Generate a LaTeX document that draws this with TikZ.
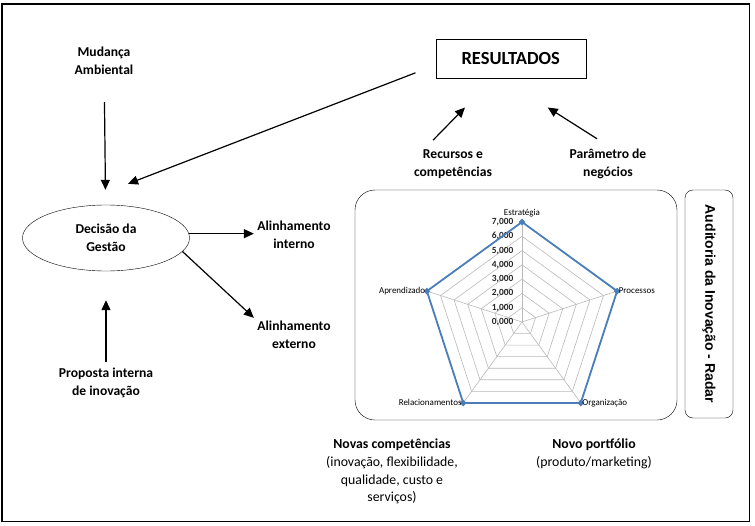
\documentclass[tikz,border=0pt]{standalone}
\usepackage{fontspec}
\setmainfont{Carlito}
\newfontfamily\arialfont{Liberation Sans}
\usetikzlibrary{arrows.meta, shapes.geometric}
\definecolor{radarblue}{RGB}{74,126,187}
\definecolor{gridgray}{RGB}{185,185,185}

\begin{document}
\begin{tikzpicture}[x=1pt, y=-1pt,
    lbl/.style={align=center, font=\fontsize{13.6}{17.6}\selectfont\bfseries},
    txt/.style={align=center, font=\fontsize{13.8}{17.6}\selectfont},
    arr/.style={-{Triangle[length=10pt, width=9pt]}, line width=1.2pt},
    radargrid/.style={draw=gridgray, line width=0.6pt},
    ticklbl/.style={font=\fontsize{9.4}{10}\selectfont\bfseries, anchor=east, inner sep=0pt, text=black!85},
    catlbl/.style={font=\fontsize{9}{10}\selectfont, inner sep=1.5pt}]
    \useasboundingbox (0,0) rectangle (755,525);
    \draw[line width=1.4pt] (2,4) rectangle (749.5,521.5);

    %Nodes
    \node[lbl] at (104, 61) (mud) {Mudança\\Ambiental};
    \node[lbl, draw, ellipse, thin, minimum width=167, minimum height=66] at (106, 238) (dec) {Decisão da\\Gestão};
    \node[lbl] at (106, 383) (prop) {Proposta interna\\de inovação};
    \node[lbl] at (294, 235) (aint) {Alinhamento\\interno};
    \node[lbl] at (294, 335) (aext) {Alinhamento\\externo};
    \node[draw, thin, minimum width=150, minimum height=39, font=\fontsize{18.5}{20}\selectfont\bfseries] at (510.7, 58.8) (res) {RESULTADOS};
    \node[lbl] at (453, 164) (rec) {Recursos e\\competências};
    \node[lbl] at (608, 164) (par) {Parâmetro de\\negócios};
    \node[txt] at (392, 471.7) (novc) {\textbf{Novas competências}\\(inovação, flexibilidade,\\qualidade, custo e\\serviços)};
    \node[txt] at (594, 454) (novp) {\textbf{Novo portfólio}\\(produto/marketing)};
    \node[draw, thin, rounded corners=8pt, rotate=-90, minimum width=228, minimum height=48,
          font=\arialfont\bfseries\fontsize{14}{16}\selectfont] at (709, 304) (aud) {Auditoria da Inovação - Radar};

    %Radar
    \draw[thin, rounded corners=20pt] (355, 190) rectangle (677, 420);
    \begin{scope}[shift={(522, 322)}, yscale=-1]
        \foreach \k in {1,...,7}
            \draw[radargrid] (90:{\k*100/7}) -- (18:{\k*100/7}) -- (-54:{\k*100/7}) -- (-126:{\k*100/7}) -- (162:{\k*100/7}) -- cycle;
        \foreach \a in {90, 18, -54, -126, 162}
            \draw[radargrid] (0,0) -- (\a:100);
        \foreach \k in {0,...,7}
            \node[ticklbl] at (-8.5, {\k*100/7}) (t\k) {\k,000};
        \draw[radarblue, line width=1.8pt, line join=round] (90:100) -- (18:100) -- (-54:100) -- (-126:100) -- (162:100) -- cycle;
        \foreach \a in {90, 18, -54, -126, 162}
            \node[diamond, fill=radarblue, inner sep=0pt, minimum size=7pt] at (\a:100) (m\a) {};
        \node[catlbl, anchor=south] at (90:103) (estr) {Estratégia};
        \node[catlbl, anchor=west] at (18:100) (proc) {Processos};
        \node[catlbl, anchor=north west, yshift=5pt] at (-54:100) (org) {Organização};
        \node[catlbl, anchor=north east, yshift=5pt] at (-126:100) (rel) {Relacionamentos};
        \node[catlbl, anchor=east] at (162:100) (apr) {Aprendizado};
    \end{scope}

    %Lines
    \draw[arr, shorten <=24pt, shorten >=15pt] (mud) -- (dec);
    \draw[arr, shorten <=3pt, shorten >=29pt] (prop) -- (dec);
    \draw[arr] (dec.3) -- (dec.3 -| aint.west);
    \draw[arr] (dec.-10) -- (aext.north west);
    \draw[arr] ([shift={(-20pt,-14pt)}]res.west) -- ([shift={(22pt,21pt)}]dec.north);
    \draw[arr] ([shift={(-20pt,6pt)}]rec.north) -- ([shift={(-45.7pt,-29pt)}]res.south);
    \draw[arr] ([shift={(-11pt,7pt)}]par.north) -- ([shift={(37pt,-29pt)}]res.south);

\end{tikzpicture}
\end{document}
